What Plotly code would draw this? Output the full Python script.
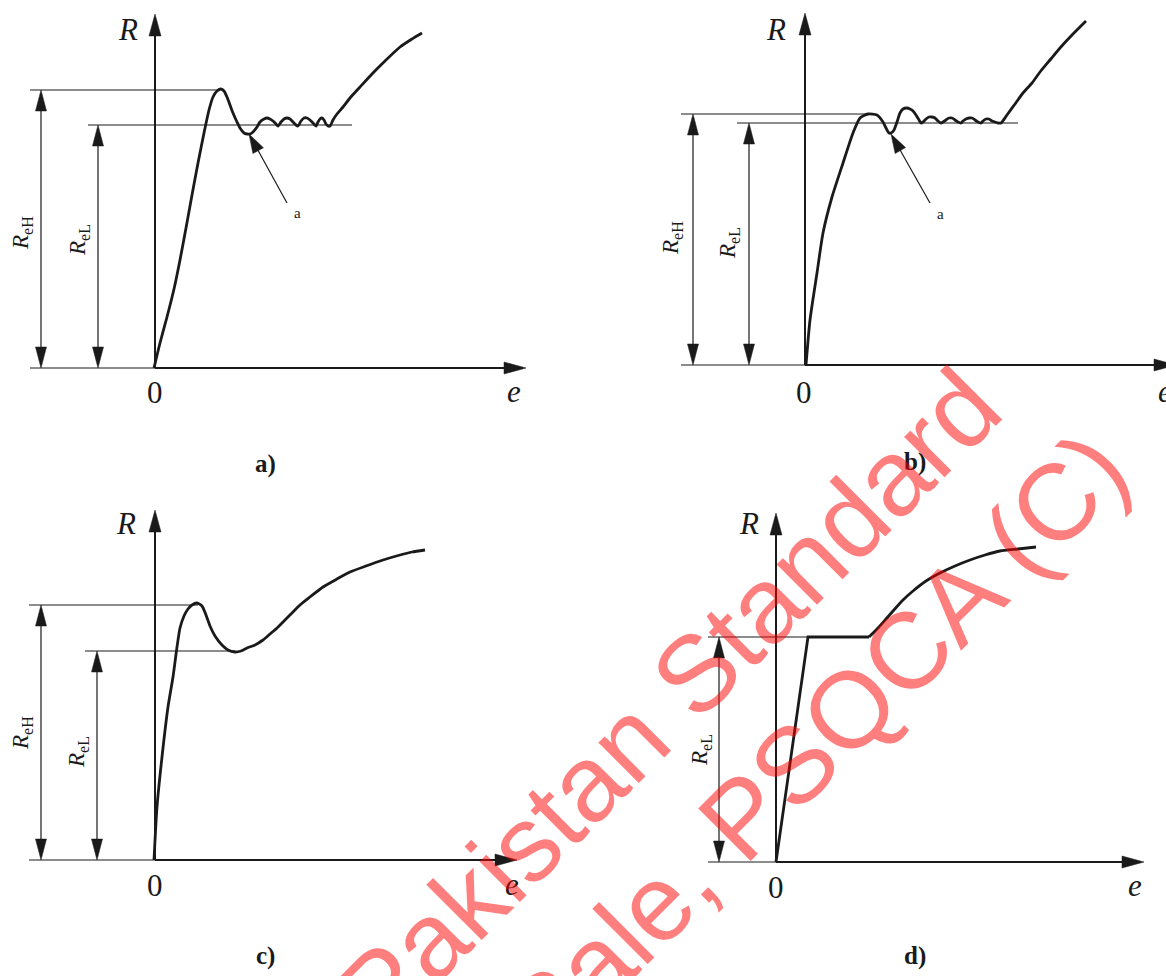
import math
import plotly.graph_objects as go

W, H = 1166, 976

# stress-strain curves (pixel coordinates, y down)
a_e = [154, 160, 167, 174, 180, 186, 192, 198, 204, 209, 213, 217, 221, 224, 227, 230, 233, 237,
       240, 244, 247, 250, 253, 257, 260, 264, 267, 270, 273, 276, 278, 281, 284, 287, 290, 293, 296, 298,
       301, 304, 307, 310, 313, 316, 318, 320, 322, 324, 326, 328, 330, 333, 337, 343, 350, 360, 372, 385,
       400, 412, 422]
a_R = [368, 343, 317, 289, 260, 228, 195, 163, 133, 110, 97, 91, 89, 91, 97, 105, 113, 122,
       128, 133, 134, 134, 132, 127, 122, 119, 118, 119, 121, 124, 126, 122, 119, 118, 119, 122, 125, 126,
       121, 118, 118, 120, 123, 126, 122, 119, 118, 120, 124, 126, 126, 120, 114, 107, 98, 87, 74, 61,
       47, 39, 33]

b_e = [806, 810, 817, 823, 832, 843, 853, 860, 868, 877,
       883, 886, 889, 891, 894, 897, 900, 903, 907, 910, 913, 916, 919, 921, 923, 926, 929, 932, 935, 938,
       941, 943, 946, 949, 952, 955, 958, 961, 963, 966, 969, 972, 975, 978, 981, 983, 986, 989, 992, 995,
       998, 1001, 1007, 1015, 1023, 1032, 1040, 1050, 1060, 1072, 1086]
b_R = [365, 320, 273, 233, 197, 163, 133, 118, 114, 115,
       122, 128, 133, 133, 130, 122, 113, 109, 108, 109, 111, 115, 120, 123, 122, 119, 117, 117, 118, 121,
       123, 122, 120, 118, 118, 120, 122, 123, 121, 119, 118, 118, 120, 122, 123, 121, 119, 119, 121, 122,
       123, 123, 115, 104, 93, 83, 72, 60, 48, 35, 21]

c_e = [154, 157, 162, 168, 173, 177, 180, 184, 188, 192, 197, 202, 206, 210, 215, 222, 228, 235, 241,
       247, 255, 263, 270, 277, 285, 293, 300, 310, 323, 337, 350, 366, 383, 400, 412, 425]
c_R = [860, 807, 757, 707, 677, 647, 628, 616, 609, 605, 603, 606, 615, 626, 636, 645, 650, 652, 651,
       648, 645, 640, 634, 628, 620, 612, 605, 597, 587, 579, 572, 566, 560, 555, 552, 550]

d_e = [776, 808, 869, 878, 886, 893, 903, 913, 926, 940, 955, 970, 985, 1000, 1018, 1036]
d_R = [862, 637, 637, 628, 619, 611, 600, 591, 581, 573, 566, 560, 555, 551, 549, 547]

# panel frames: origin, top of R axis, tip of e axis, left end of base line
panels = {
    "a": dict(o=(155, 368), top=14, right=526, left=30),
    "b": dict(o=(805, 365), top=13, right=1176, left=681),
    "c": dict(o=(155, 860), top=510, right=517, left=29),
    "d": dict(o=(776, 862), top=513, right=1144, left=708),
}
# limit lines: (y, x_from, x_to, x of dimension arrow, label position)
ReH = {
    "a": (90, 30, 220, 41, (22, 233)),
    "b": (114, 681, 870, 693, (672, 238)),
    "c": (605, 29, 198, 41, (22, 733)),
}
ReL = {
    "a": (125, 88, 352, 98, (79, 240)),
    "b": (123, 737, 1018, 749, (729, 243)),
    "c": (651, 85, 235, 97, (78, 752)),
    "d": (637, 708, 808, 719, (701, 750)),
}
# label "a" pointer: (tail, tip, text position)
pointer = {
    "a": ((287, 203), (249, 134), (297, 213)),
    "b": ((930, 203), (891, 134), (940, 214)),
}
sub_labels = {"a": (265, 464), "b": (915, 462), "c": (265, 956), "d": (915, 956)}
R_labels = {"a": (128, 29), "b": (776, 29), "c": (126, 523), "d": (749, 523)}
zero_labels = {"a": (155, 392), "b": (804, 392), "c": (155, 885), "d": (776, 887)}
e_labels = {"a": (514, 391), "b": (1165, 391), "c": (512, 884), "d": (1135, 885)}

INK = "#1a1a1a"
SERIF = "Liberation Serif"

fig = go.Figure()
shapes = []
notes = []


def seg(x0, y0, x1, y1, w):
    shapes.append(dict(type="line", x0=x0, y0=y0, x1=x1, y1=y1,
                       line=dict(color=INK, width=w), layer="above"))


def head(tx, ty, fx, fy, length=21, half=5.5):
    # filled triangle with tip at (tx, ty), pointing away from (fx, fy)
    dx, dy = tx - fx, ty - fy
    n = math.hypot(dx, dy)
    ux, uy = dx / n, dy / n
    bx, by = tx - ux * length, ty - uy * length
    px, py = -uy * half, ux * half
    path = f"M {tx},{ty} L {bx + px},{by + py} L {bx - px},{by - py} Z"
    shapes.append(dict(type="path", path=path, fillcolor=INK,
                       line=dict(color=INK, width=0.5), layer="above"))


def text(x, y, s, size, angle=0, family=SERIF, color=INK):
    notes.append(dict(x=x, y=y, text=s, showarrow=False, textangle=angle,
                      font=dict(family=family, size=size, color=color),
                      xanchor="center", yanchor="middle"))


for k, p in panels.items():
    ox, oy = p["o"]
    seg(p["left"], oy, ox, oy, 1.2)
    seg(ox, oy, p["right"] - 15, oy, 2)
    head(p["right"], oy, ox, oy, 22, 6)
    seg(ox, oy, ox, p["top"] + 15, 2)
    head(ox, p["top"], ox, oy, 22, 6)
    text(*R_labels[k], "<i>R</i>", 31)
    text(*zero_labels[k], "0", 31)
    text(*e_labels[k], "<i>e</i>", 31)
    text(*sub_labels[k], "<b>%s)</b>" % k, 25)

for k, (y, x0, x1, xd, lab) in ReH.items():
    oy = panels[k]["o"][1]
    seg(x0, y, x1, y, 1.2)
    seg(xd, y + 18, xd, oy - 18, 1.2)
    head(xd, y, xd, oy, 21, 5.5)
    head(xd, oy, xd, y, 21, 5.5)
    text(*lab, "<i>R</i><sub>eH</sub>", 23, angle=-90)

for k, (y, x0, x1, xd, lab) in ReL.items():
    oy = panels[k]["o"][1]
    seg(x0, y, x1, y, 1.2)
    seg(xd, y + 18, xd, oy - 18, 1.2)
    head(xd, y, xd, oy, 21, 5.5)
    head(xd, oy, xd, y, 21, 5.5)
    text(*lab, "<i>R</i><sub>eL</sub>", 23, angle=-90)

for k, (tail, tip, lab) in pointer.items():
    seg(tail[0], tail[1], tip[0] + (tail[0] - tip[0]) * 0.2, tip[1] + (tail[1] - tip[1]) * 0.2, 1.2)
    head(tip[0], tip[1], tail[0], tail[1], 19, 6)
    text(*lab, "a", 15)

for xs, ys, shp in [(a_e, a_R, "spline"), (b_e, b_R, "spline"), (c_e, c_R, "spline"),
                    (d_e[:3], d_R[:3], "linear"), (d_e[2:], d_R[2:], "spline")]:
    fig.add_trace(go.Scatter(x=xs, y=ys, mode="lines", hoverinfo="skip",
                             line=dict(color=INK, width=2.8, shape=shp, smoothing=0.6)))

# watermark
WM = "rgba(255,0,0,0.5)"
text(668, 700, "Pakistan Standard", 108, angle=-45, family="Liberation Sans", color=WM)
text(815, 743, "Sale, PSQCA (C)", 108, angle=-45, family="Liberation Sans", color=WM)

fig.update_layout(
    width=W, height=H, margin=dict(l=0, r=0, t=0, b=0),
    plot_bgcolor="white", paper_bgcolor="white", showlegend=False,
    xaxis=dict(range=[0, W], visible=False, fixedrange=True),
    yaxis=dict(range=[H, 0], visible=False, fixedrange=True),
    shapes=shapes, annotations=notes,
)
fig.write_html("out.html", config={"displayModeBar": False},
               post_script="document.body.style.margin='0';")
